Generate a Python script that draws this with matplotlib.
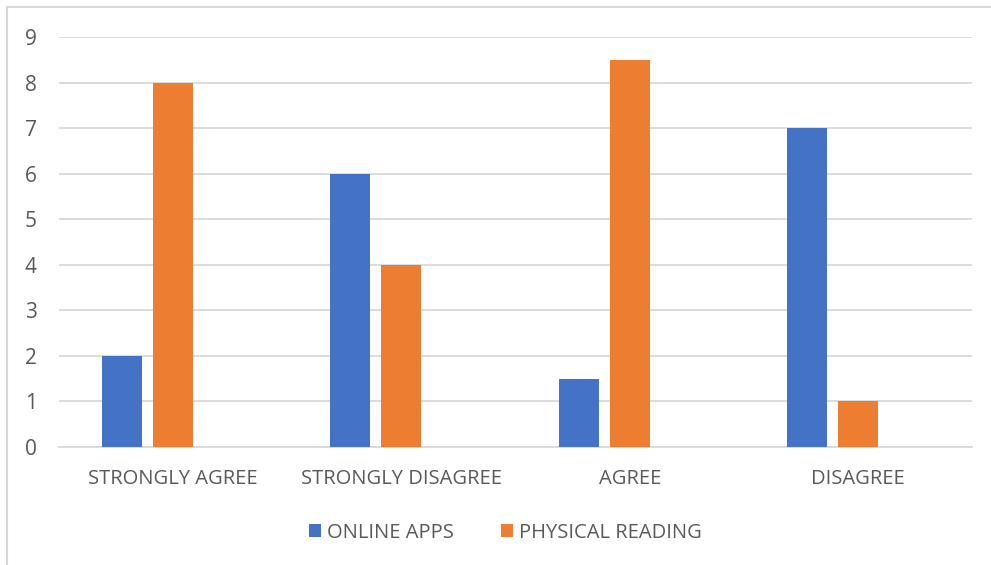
import matplotlib.pyplot as plt
import numpy as np
from matplotlib.lines import Line2D

categories = ["STRONGLY AGREE", "STRONGLY DISAGREE", "AGREE", "DISAGREE"]
online_apps = [2, 6, 1.5, 7]
physical_reading = [8, 4, 8.5, 1]
series_names = ["ONLINE APPS", "PHYSICAL READING"]

plt.rcParams["font.family"] = ["Open Sans", "DejaVu Sans"]
text_col = "#595959"

fig = plt.figure(figsize=(9.91, 5.65), dpi=100)
ax = fig.add_axes([0.0595, 0.2088, 0.9215, 0.7257])

x = np.arange(len(categories))
slot = 0.2234
width = 0.175
ax.bar(x - slot, online_apps, width, color="#4472C4", label=series_names[0], zorder=3)
ax.bar(x, physical_reading, width, color="#ED7D31", label=series_names[1], zorder=3)

ax.set_xlim(-0.5, 3.5)
ax.set_ylim(0, 9)
ax.set_yticks(range(10))
ax.yaxis.grid(True, color="#D9D9D9", linewidth=1.3, zorder=0)
ax.set_xticks(x)
ax.set_xticklabels(categories)
ax.tick_params(axis="both", length=0, labelsize=14.5, colors=text_col)
ax.tick_params(axis="x", pad=16)
ax.tick_params(axis="y", pad=16, labelsize=15)
for s in ["top", "right", "left"]:
    ax.spines[s].set_visible(False)
ax.spines["bottom"].set_color("#D9D9D9")
ax.spines["bottom"].set_linewidth(1.3)

fig.legend(loc="center", bbox_to_anchor=(0.51, 0.057), ncol=2, frameon=False,
           fontsize=14.5, labelcolor=text_col, handlelength=0.6, handleheight=0.6,
           handletextpad=0.3, columnspacing=2.3)

# outer chart border (left and top visible)
fig.add_artist(Line2D([7 / 991, 7 / 991], [0, 1 - 7 / 565], transform=fig.transFigure,
                      color="#D9D9D9", linewidth=1.5))
fig.add_artist(Line2D([7 / 991, 1], [1 - 7 / 565, 1 - 7 / 565], transform=fig.transFigure,
                      color="#D9D9D9", linewidth=1.5))

fig.savefig("out.png", dpi=100)
